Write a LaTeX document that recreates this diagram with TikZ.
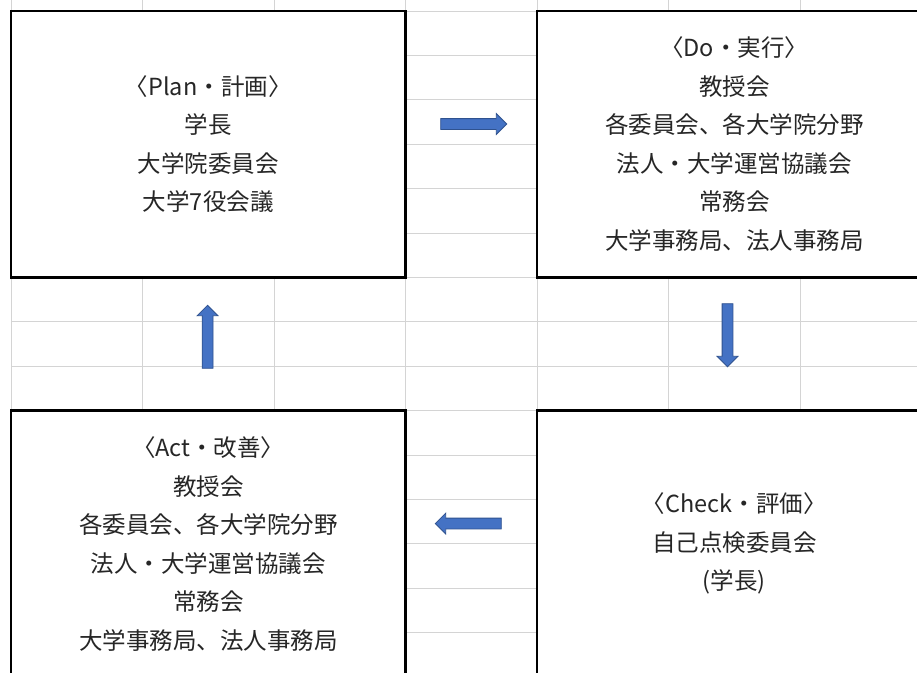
\documentclass[tikz,border=0pt]{standalone}
\usepackage{fontspec}
\setmainfont{Noto Sans CJK JP}
\usetikzlibrary{shapes.arrows}
\definecolor{gridgray}{HTML}{D4D4D4}
\definecolor{arrowfill}{HTML}{4472C4}
\definecolor{arrowline}{HTML}{2F528F}
\definecolor{textgray}{HTML}{262626}
\begin{document}
\begin{tikzpicture}[x=1pt,y=-1pt,
  gridline/.style={draw=gridgray, line width=1pt},
  pdcabox/.style={draw=black, line width=2.5pt, fill=white, inner sep=0pt, outer sep=0pt,
    minimum width=394.5pt, minimum height=266.4pt, align=center,
    font=\fontsize{23.5}{38.5}\selectfont, text=textgray},
  blockarrow/.style={single arrow, fill=arrowfill, draw=arrowline, line width=0.8pt,
    minimum width=20pt, inner ysep=5pt, inner xsep=0pt,
    single arrow head extend=5pt, single arrow tip angle=90}]
\useasboundingbox (0,0) rectangle (917,672);
\clip (0,0) rectangle (917,672);
\fill[white] (0,0) rectangle (917,672);
% spreadsheet grid
\foreach \x in {11,142.5,274,405.5,537,668.5,800}
  \draw[gridline] (\x,0) -- (\x,672);
\foreach \k in {0,...,15}
  \draw[gridline] (11,{11+44.4*\k}) -- (917,{11+44.4*\k});
% PDCA boxes
\node[pdcabox] (plan) at (208.25,144.2) {〈Plan・計画〉\\学長\\大学院委員会\\大学7役会議};
\node[pdcabox] (do) at (734.25,144.2) {〈Do・実行〉\\教授会\\各委員会、各大学院分野\\法人・大学運営協議会\\常務会\\大学事務局、法人事務局};
\node[pdcabox] (act) at (208.25,543.8) {〈Act・改善〉\\教授会\\各委員会、各大学院分野\\法人・大学運営協議会\\常務会\\大学事務局、法人事務局};
\node[pdcabox] (check) at (734.25,543.8) {〈Check・評価〉\\自己点検委員会\\(学長)};
% block arrows
\node[blockarrow, minimum height=66pt] (p2d) at (471,124) {};
\node[blockarrow, minimum height=63pt, rotate=-90] (d2c) at (727.5,332.5) {};
\node[blockarrow, minimum height=66pt, rotate=180] (c2a) at (471,523.5) {};
\node[blockarrow, minimum height=63pt, rotate=90] (a2p) at (207.6,339.5) {};
\end{tikzpicture}
\end{document}
